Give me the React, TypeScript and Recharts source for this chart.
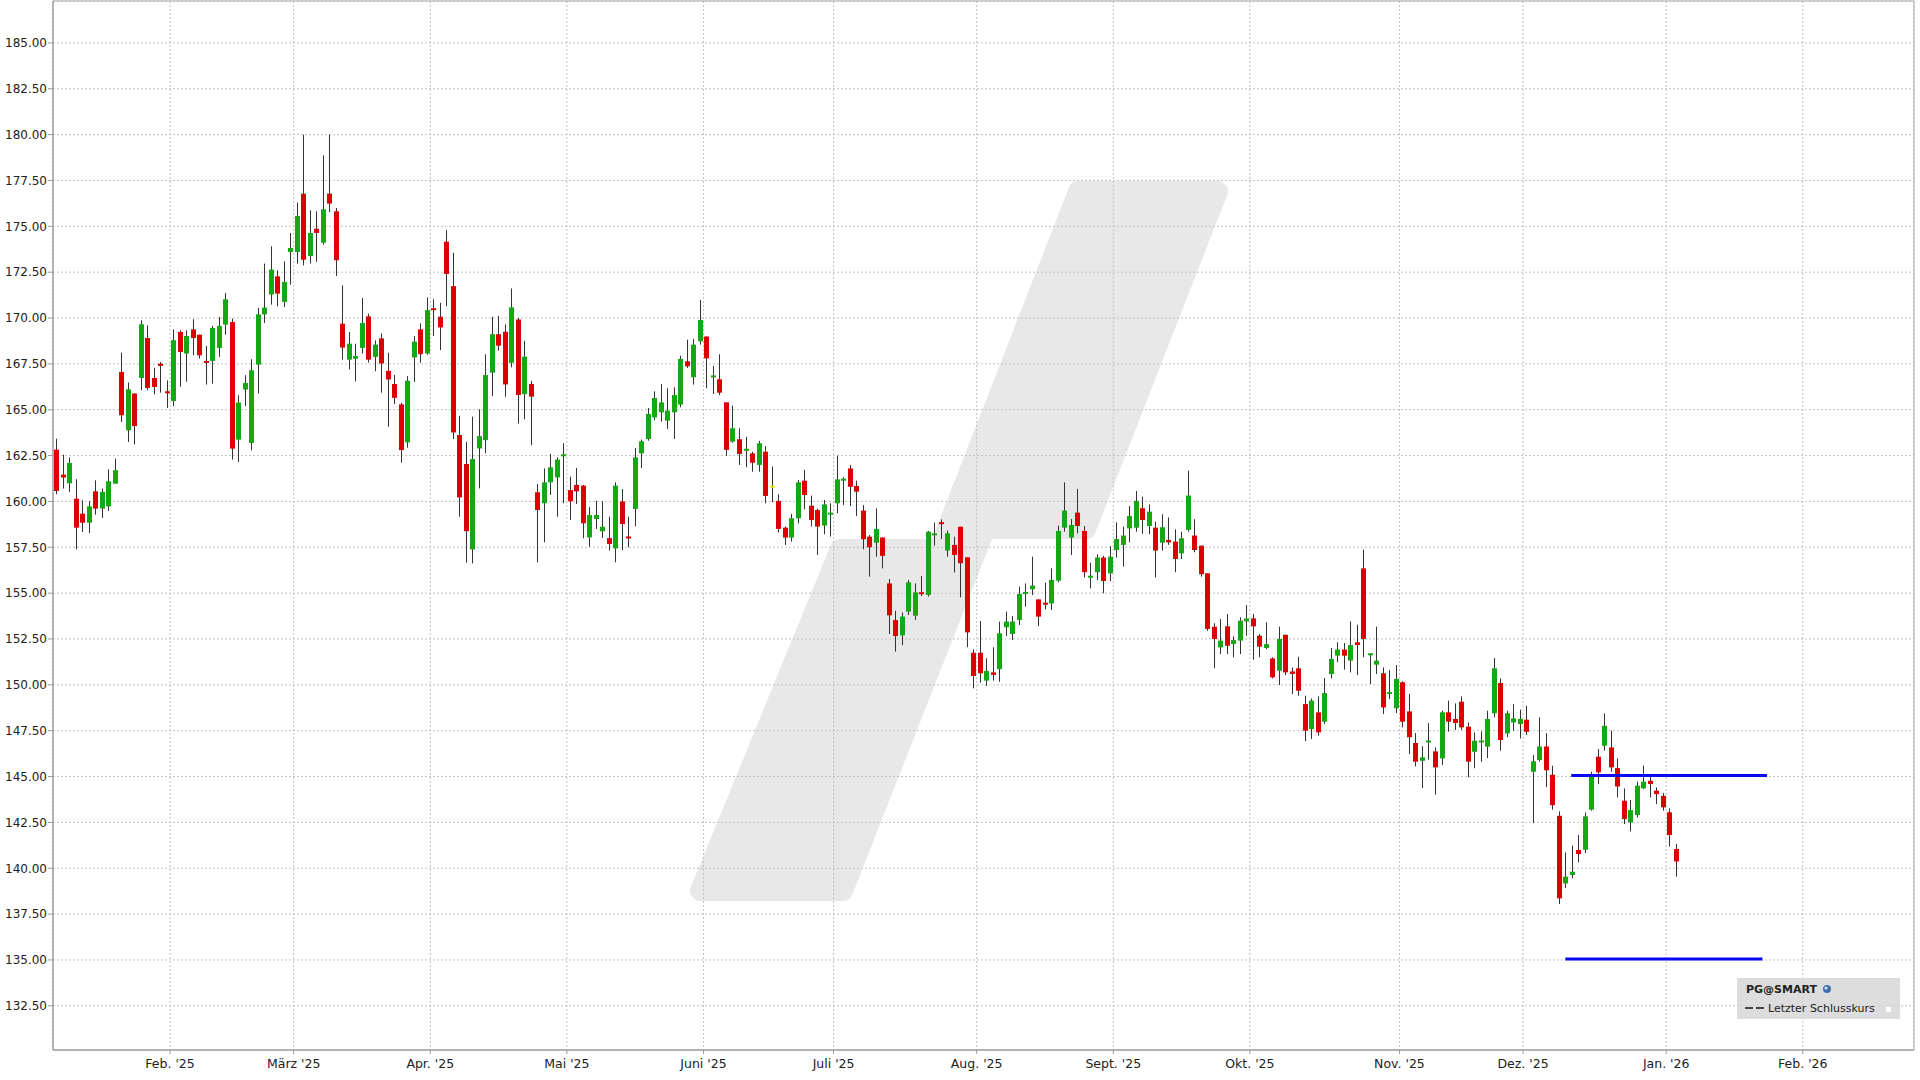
import React from 'react';
import { ComposedChart, Bar, XAxis, YAxis, CartesianGrid, ReferenceLine, ReferenceArea } from 'recharts';

const dates = [
  '2025-01-06','2025-01-07','2025-01-08','2025-01-10','2025-01-13','2025-01-14','2025-01-15','2025-01-16','2025-01-17','2025-01-21',
  '2025-01-22','2025-01-23','2025-01-24','2025-01-27','2025-01-28','2025-01-29','2025-01-30','2025-01-31',
  '2025-02-03','2025-02-04','2025-02-05','2025-02-06','2025-02-07','2025-02-10','2025-02-11','2025-02-12','2025-02-13','2025-02-14',
  '2025-02-18','2025-02-19','2025-02-20','2025-02-21','2025-02-24','2025-02-25','2025-02-26','2025-02-27','2025-02-28',
  '2025-03-03','2025-03-04','2025-03-05','2025-03-06','2025-03-07','2025-03-10','2025-03-11','2025-03-12','2025-03-13','2025-03-14',
  '2025-03-17','2025-03-18','2025-03-19','2025-03-20','2025-03-21','2025-03-24','2025-03-25','2025-03-26','2025-03-27','2025-03-28','2025-03-31',
  '2025-04-01','2025-04-02','2025-04-03','2025-04-04','2025-04-07','2025-04-08','2025-04-09','2025-04-10','2025-04-11','2025-04-14',
  '2025-04-15','2025-04-16','2025-04-17','2025-04-21','2025-04-22','2025-04-23','2025-04-24','2025-04-25','2025-04-28','2025-04-29','2025-04-30',
  '2025-05-01','2025-05-02','2025-05-05','2025-05-06','2025-05-07','2025-05-08','2025-05-09','2025-05-12','2025-05-13','2025-05-14',
  '2025-05-15','2025-05-16','2025-05-19','2025-05-20','2025-05-21','2025-05-22','2025-05-23','2025-05-27','2025-05-28','2025-05-29','2025-05-30',
  '2025-06-02','2025-06-03','2025-06-04','2025-06-05','2025-06-06','2025-06-09','2025-06-10','2025-06-11','2025-06-12','2025-06-13',
  '2025-06-16','2025-06-17','2025-06-18','2025-06-20','2025-06-23','2025-06-24','2025-06-25','2025-06-26','2025-06-27','2025-06-30',
  '2025-07-01','2025-07-02','2025-07-03','2025-07-07','2025-07-08','2025-07-09','2025-07-10','2025-07-11','2025-07-14','2025-07-15',
  '2025-07-16','2025-07-17','2025-07-18','2025-07-21','2025-07-22','2025-07-23','2025-07-24','2025-07-25','2025-07-28','2025-07-29','2025-07-30','2025-07-31',
  '2025-08-01','2025-08-04','2025-08-05','2025-08-06','2025-08-07','2025-08-08','2025-08-11','2025-08-12','2025-08-13','2025-08-14',
  '2025-08-15','2025-08-18','2025-08-19','2025-08-20','2025-08-21','2025-08-22','2025-08-25','2025-08-26','2025-08-27','2025-08-28','2025-08-29',
  '2025-09-02','2025-09-03','2025-09-04','2025-09-05','2025-09-08','2025-09-09','2025-09-10','2025-09-11','2025-09-12','2025-09-15',
  '2025-09-16','2025-09-17','2025-09-18','2025-09-19','2025-09-22','2025-09-23','2025-09-24','2025-09-25','2025-09-26','2025-09-29','2025-09-30',
  '2025-10-01','2025-10-02','2025-10-03','2025-10-06','2025-10-07','2025-10-08','2025-10-09','2025-10-10','2025-10-13','2025-10-14',
  '2025-10-15','2025-10-16','2025-10-17','2025-10-20','2025-10-21','2025-10-22','2025-10-23','2025-10-24','2025-10-27','2025-10-28',
  '2025-10-29','2025-10-30','2025-10-31',
  '2025-11-03','2025-11-04','2025-11-05','2025-11-06','2025-11-07','2025-11-10','2025-11-11','2025-11-12','2025-11-13','2025-11-14',
  '2025-11-17','2025-11-18','2025-11-19','2025-11-20','2025-11-21','2025-11-24','2025-11-25','2025-11-26','2025-11-28',
  '2025-12-01','2025-12-02','2025-12-03','2025-12-04','2025-12-05','2025-12-08','2025-12-09','2025-12-10','2025-12-11','2025-12-12',
  '2025-12-15','2025-12-16','2025-12-17','2025-12-18','2025-12-19','2025-12-22','2025-12-23','2025-12-24','2025-12-26','2025-12-29',
  '2025-12-30','2025-12-31','2026-01-02','2026-01-05'
];

const openPrices = [
  162.82,161.46,160.99,160.15,159.33,158.84,160.55,159.61,159.73,160.97,
  167.06,163.88,165.88,166.73,168.91,166.73,167.51,166.00,165.48,169.24,
  168.06,169.38,169.09,167.64,167.66,168.37,169.64,169.78,163.37,166.10,
  163.19,167.46,170.20,171.28,172.27,170.88,173.60,173.60,176.78,173.38,
  174.87,174.11,176.78,175.82,169.69,167.73,167.78,168.37,170.09,167.88,
  168.89,167.12,166.40,165.29,163.22,167.85,169.38,168.07,170.53,170.07,
  174.16,171.74,163.62,162.04,157.38,162.89,163.34,167.02,169.12,169.25,
  167.56,169.92,165.85,166.40,160.50,159.90,161.04,161.31,162.48,160.62,
  160.90,160.86,158.04,159.04,158.37,158.00,157.44,160.00,158.08,159.59,
  162.62,163.40,164.58,164.86,164.40,164.86,165.28,167.64,166.77,168.73,
  168.99,166.78,166.66,165.40,163.26,163.39,162.78,162.62,161.99,162.71,
  160.81,160.03,158.57,158.03,159.08,161.13,159.77,159.53,158.68,159.30,
  159.90,161.15,161.80,160.84,159.50,158.08,157.75,158.03,155.53,153.53,
  152.70,153.99,153.77,155.04,154.90,158.17,158.86,157.32,157.63,158.62,
  156.95,151.75,151.75,150.23,150.68,150.86,153.14,152.77,153.54,154.97,
  155.21,154.66,154.48,154.44,155.68,158.57,158.03,159.39,158.39,155.85,
  156.14,156.94,156.08,157.35,157.63,158.53,158.57,159.63,158.66,158.57,
  157.75,157.90,157.81,157.17,158.45,158.14,157.59,156.08,153.17,152.04,
  153.19,152.22,152.41,153.46,153.62,152.68,152.01,151.44,150.77,152.73,
  150.73,150.90,148.95,147.59,148.50,147.99,150.59,151.59,151.92,151.32,
  152.32,156.35,151.63,151.10,150.63,149.52,148.72,150.14,148.55,146.83,
  145.86,146.88,146.37,145.99,148.50,148.14,149.08,147.72,146.35,146.88,
  146.63,148.45,150.10,147.35,147.95,147.86,148.10,145.26,145.90,146.64,
  145.10,142.86,139.17,139.63,141.00,141.01,143.19,146.08,146.68,146.59,
  145.46,143.68,142.50,142.90,144.36,144.77,144.23,143.95,143.05,141.05
];

const highPrices = [
  163.42,162.55,162.39,161.21,160.06,160.02,161.15,160.70,161.75,162.33,
  168.11,166.48,165.90,169.88,169.60,167.29,167.60,166.60,169.38,169.33,
  169.33,169.93,169.10,168.48,169.57,170.06,171.37,169.97,165.79,166.88,
  167.75,170.55,172.97,173.91,172.60,173.09,174.64,176.29,180.00,175.87,
  175.82,178.87,180.00,176.00,171.78,169.24,168.60,171.09,170.24,168.78,
  169.16,168.11,166.89,165.38,166.83,169.02,169.71,171.12,171.02,170.83,
  174.79,173.56,164.67,163.25,164.62,165.02,168.02,170.07,170.12,169.65,
  171.61,170.00,168.76,166.58,160.95,161.80,162.59,162.40,163.17,161.35,
  161.82,160.90,159.68,160.04,160.00,159.17,161.04,160.68,159.17,162.91,
  163.37,165.09,166.00,166.40,166.17,166.22,167.95,168.82,168.86,170.98,
  169.00,167.38,168.02,165.40,165.22,163.99,163.53,162.71,163.30,163.02,
  161.90,160.39,158.63,159.32,161.17,161.72,160.32,159.60,160.08,159.90,
  162.50,161.32,161.99,161.13,159.80,158.17,159.62,158.05,155.77,154.04,
  153.94,155.72,155.53,155.93,158.39,158.84,159.02,158.41,158.08,158.62,
  156.95,151.94,153.48,151.45,152.05,153.45,153.99,153.75,155.35,155.53,
  156.99,154.66,155.57,156.35,158.68,161.04,159.04,160.68,158.66,156.66,
  157.12,157.03,157.57,158.86,158.63,159.75,160.57,160.26,159.84,158.90,
  159.30,159.13,158.48,158.35,161.68,159.03,157.60,156.08,153.36,153.59,
  153.86,152.64,153.68,154.35,153.86,152.77,153.41,151.50,153.17,152.73,
  150.95,151.53,149.41,149.26,149.37,150.37,152.01,152.32,152.28,153.46,
  153.28,157.37,151.73,153.17,150.95,150.80,151.08,150.19,149.50,147.37,
  146.65,147.92,146.59,148.59,149.14,148.99,149.37,147.95,147.41,147.46,
  148.59,151.46,150.35,148.59,148.95,148.65,148.86,146.17,148.23,147.36,
  145.59,143.10,140.86,141.23,141.81,143.04,145.26,146.50,148.44,147.50,
  145.99,144.35,143.72,144.72,145.59,145.01,144.41,144.10,143.27,141.32
];

const lowPrices = [
  160.39,160.70,160.52,157.39,158.33,158.28,159.28,159.10,159.48,160.97,
  164.33,163.24,163.11,166.06,166.06,165.84,165.93,165.10,165.19,166.26,
  166.53,167.97,167.79,166.37,166.42,167.88,169.09,162.28,162.15,165.20,
  162.79,165.88,169.73,170.73,170.64,170.60,171.82,172.97,172.87,172.97,
  173.06,174.00,175.78,172.29,167.73,167.20,166.55,168.06,167.57,167.10,
  165.93,164.07,165.31,162.11,162.93,166.52,167.56,168.00,169.02,168.25,
  170.65,163.40,159.16,156.66,156.62,160.71,162.62,165.74,168.22,165.71,
  167.31,164.25,164.47,163.07,156.68,157.77,160.35,159.17,159.90,158.99,
  159.86,157.99,157.53,158.50,158.01,157.32,156.68,157.35,157.50,158.64,
  161.82,163.31,164.44,164.35,163.95,163.40,165.13,167.28,166.37,168.55,
  166.17,165.86,165.80,162.48,163.20,161.99,161.86,161.62,161.62,159.90,
  159.95,158.30,157.63,157.81,158.80,159.57,158.63,157.08,158.21,158.08,
  159.35,159.80,159.75,159.21,157.39,155.90,156.99,156.35,152.77,151.81,
  152.17,153.81,153.54,154.84,154.81,157.59,157.95,156.99,156.13,154.77,
  152.05,149.81,150.12,149.94,150.23,150.17,152.66,152.44,153.26,154.26,
  154.90,153.21,154.12,154.08,155.59,158.35,157.08,158.26,155.85,155.26,
  155.72,154.99,155.66,156.94,156.45,157.77,158.35,158.23,158.21,155.85,
  157.32,157.63,156.14,156.86,158.35,157.23,155.90,152.94,150.90,151.68,
  151.68,151.50,151.68,152.68,151.37,151.50,151.95,150.35,149.99,150.53,
  149.50,149.41,146.92,147.05,147.23,147.86,150.35,151.23,150.83,150.68,
  150.53,151.50,150.04,150.59,148.41,149.23,148.46,147.68,146.23,145.55,
  144.37,145.92,144.01,145.63,147.45,147.54,147.55,144.95,145.45,145.81,
  146.01,148.23,146.41,147.14,147.50,147.08,147.26,142.46,145.81,144.43,
  143.19,138.05,138.92,139.45,140.32,140.83,143.14,144.59,146.41,145.26,
  143.86,142.41,142.01,142.77,144.32,143.86,143.50,143.14,141.19,139.54
];

const closePrices = [
  160.57,161.30,162.10,158.57,158.84,159.73,159.61,160.52,161.10,161.70,
  164.70,166.11,164.11,169.66,166.19,166.24,167.39,165.90,168.79,168.15,
  169.02,168.91,167.97,167.57,169.46,169.57,171.02,162.88,165.39,166.46,
  167.15,170.20,170.57,172.64,171.33,171.97,173.82,175.56,173.18,174.64,
  174.64,175.93,176.24,173.15,168.39,168.60,167.93,169.73,167.73,168.55,
  167.52,166.65,165.65,162.80,166.58,168.71,168.03,170.43,170.43,169.49,
  172.40,163.76,160.22,158.38,162.31,163.56,166.89,169.12,168.49,166.38,
  170.58,165.80,167.89,165.71,159.53,161.04,161.86,162.28,162.55,160.01,
  160.55,158.81,159.26,159.26,158.62,157.68,160.86,158.77,157.99,162.40,
  163.28,164.77,165.64,165.40,164.95,165.80,167.77,167.37,168.55,169.89,
  167.80,166.85,165.93,162.81,163.99,162.59,162.85,162.11,163.17,160.30,
  160.81,158.50,158.03,159.08,161.04,160.35,158.99,158.63,159.84,159.37,
  161.20,161.22,160.80,160.53,157.94,157.50,158.50,157.03,153.79,152.66,
  153.72,155.59,155.04,154.95,158.35,158.24,158.77,158.26,157.08,156.63,
  152.86,150.48,150.63,150.76,150.54,152.81,153.45,153.45,154.95,155.04,
  155.41,153.72,154.37,155.72,158.39,159.50,158.72,158.66,156.14,155.94,
  156.94,155.66,156.99,157.95,158.14,159.21,160.03,158.99,159.44,157.32,
  158.59,157.77,156.86,157.99,160.32,157.35,156.03,153.05,152.50,152.41,
  152.13,152.44,153.50,153.62,153.19,152.08,152.22,150.41,152.50,150.68,
  150.59,149.68,147.50,149.14,147.41,149.55,151.41,151.92,151.59,152.17,
  152.17,152.50,151.70,151.32,148.77,149.58,150.32,147.99,147.14,145.81,
  146.05,146.95,145.50,148.50,147.99,147.92,147.68,145.81,146.95,146.95,
  148.14,150.90,146.99,148.45,148.17,148.14,147.44,145.83,146.64,145.34,
  143.44,138.36,139.54,139.81,140.77,142.83,145.08,145.23,147.77,145.50,
  144.46,142.68,143.17,144.50,144.72,144.59,144.04,143.32,141.81,140.37
];

// month boundaries on the trading-day index axis
const monthTicks = [17.5, 36.5, 57.5, 78.5, 99.5, 119.5, 141.5, 162.5, 183.5, 206.5, 225.5, 247.5, 268.5];
const monthLabels = ["Feb. '25", "März '25", "Apr. '25", "Mai '25", "Juni '25", "Juli '25", "Aug. '25", "Sept. '25", "Okt. '25", "Nov. '25", "Dez. '25", "Jan. '26", "Feb. '26"];
const priceTicks = [132.5, 135, 137.5, 140, 142.5, 145, 147.5, 150, 152.5, 155, 157.5, 160, 162.5, 165, 167.5, 170, 172.5, 175, 177.5, 180, 182.5, 185];

// horizontal drawn levels: price, start index, end index
const levelPrices = [145.05, 135.05];
const levelStarts = [232.9, 232.0];
const levelEnds = [263.0, 262.3];

const X_DOMAIN: [number, number] = [-0.5, 285.6];
const Y_DOMAIN: [number, number] = [130.09, 187.285];

const GREEN = '#14a814';
const RED = '#dc0000';
const DOJI = '#f2e600';
const FONT = '"DejaVu Sans", Verdana, sans-serif';

const data = dates.map((d, i) => ({
  i,
  date: d,
  o: openPrices[i],
  h: highPrices[i],
  l: lowPrices[i],
  c: closePrices[i],
}));

const Candle = (props: any) => {
  const { x, y, width, height, payload } = props;
  if (x == null || y == null || !payload) return null;
  const { o, h, l, c } = payload;
  const top = Math.min(y, y + height);
  const bot = Math.max(y, y + height);
  const k = (bot - top) / (h - l || 1);
  const yO = top + (h - o) * k;
  const yC = top + (h - c) * k;
  const color = c > o ? GREEN : c < o ? RED : DOJI;
  const bx = Math.round(x + width / 2 - 2.5);
  const cx = bx + 2.5;
  let by = Math.min(yO, yC);
  let bh = Math.abs(yO - yC);
  if (bh < 2) {
    by = (yO + yC) / 2 - 1;
    bh = 2;
  }
  return (
    <g>
      <line x1={cx} x2={cx} y1={top} y2={bot} stroke="#333" strokeWidth={1} />
      <rect x={bx} y={by} width={5} height={bh} fill={color} />
    </g>
  );
};

const Watermark = () => (
  <svg width={1920} height={1080} style={{ position: 'absolute', left: 0, top: 0 }}>
    <path
      d="M700,891 L843,891 L985.3,529 L1086,529 L1218,191 L1078.3,191 L938.8,549 L839.9,549 Z"
      fill="#e8e8e8"
      stroke="#e8e8e8"
      strokeWidth={20}
      strokeLinejoin="round"
    />
  </svg>
);

const LegendBox = () => (
  <div
    style={{
      position: 'absolute',
      left: 1737,
      top: 978,
      width: 163,
      height: 41,
      background: 'rgba(214,214,214,0.82)',
      fontFamily: FONT,
      fontSize: 11,
      color: '#222',
    }}
  >
    <div style={{ position: 'absolute', left: 9, top: 5, lineHeight: '13px', fontWeight: 'bold', whiteSpace: 'nowrap' }}>
      PG@SMART
    </div>
    <svg width={10} height={10} style={{ position: 'absolute', left: 85, top: 6 }}>
      <circle cx={5} cy={5} r={4} fill="#3f6fb0" />
      <circle cx={4} cy={4} r={1.6} fill="#cfe0f5" />
    </svg>
    <svg width={22} height={6} style={{ position: 'absolute', left: 8, top: 27 }}>
      <line x1={0} x2={8} y1={3} y2={3} stroke="#222" strokeWidth={1.6} />
      <line x1={11} x2={19} y1={3} y2={3} stroke="#222" strokeWidth={1.6} />
    </svg>
    <div style={{ position: 'absolute', left: 31, top: 24, lineHeight: '13px', whiteSpace: 'nowrap' }}>
      Letzter Schlusskurs
    </div>
    <div style={{ position: 'absolute', left: 148, top: 28, width: 5, height: 5, background: '#fff', border: '1px solid #ddd' }} />
  </div>
);

export default function App() {
  return (
    <div style={{ position: 'absolute', left: 0, top: 0, width: 1920, height: 1080, background: '#fff', overflow: 'hidden' }}>
      <Watermark />
      <div style={{ position: 'absolute', left: 0, top: 0 }}>
        <ComposedChart width={1920} height={1080} data={data} margin={{ top: 1, right: 6, bottom: 0, left: 0 }}>
          <CartesianGrid stroke="#c2c2c2" strokeDasharray="2 2" />
          <XAxis
            dataKey="i"
            type="number"
            domain={X_DOMAIN}
            allowDataOverflow
            ticks={monthTicks}
            interval={0}
            tickFormatter={(v: number) => monthLabels[monthTicks.indexOf(v)] ?? ''}
            height={30}
            tickSize={4}
            tickMargin={5}
            tick={{ fontSize: 12.5, fill: '#222', fontFamily: FONT }}
            axisLine={{ stroke: '#999' }}
            tickLine={{ stroke: '#999' }}
          />
          <YAxis
            type="number"
            domain={Y_DOMAIN}
            allowDataOverflow
            ticks={priceTicks}
            interval={0}
            width={53}
            tickSize={5}
            tickMargin={1}
            tickFormatter={(v: number) => v.toFixed(2)}
            tick={{ fontSize: 12, fill: '#222', fontFamily: FONT }}
            axisLine={{ stroke: '#999' }}
            tickLine={{ stroke: '#999' }}
          />
          <ReferenceArea x1={X_DOMAIN[0]} x2={X_DOMAIN[1]} y1={Y_DOMAIN[0]} y2={Y_DOMAIN[1]} fill="none" stroke="#aaa" strokeOpacity={1} fillOpacity={0} />
          <Bar dataKey={(d: any) => [d.l, d.h]} barSize={5} shape={Candle} isAnimationActive={false} />
          {levelPrices.map((p, k) => (
            <ReferenceLine
              key={k}
              segment={[{ x: levelStarts[k], y: p }, { x: levelEnds[k], y: p }]}
              stroke="#0a0af0"
              strokeWidth={3}
            />
          ))}
        </ComposedChart>
      </div>
      <LegendBox />
    </div>
  );
}
